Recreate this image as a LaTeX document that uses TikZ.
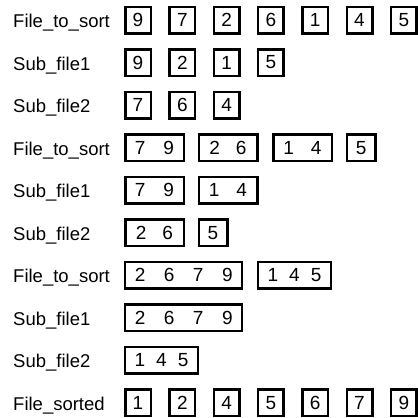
\documentclass[tikz,border=0pt]{standalone}
\usepackage{fontspec}
\setmainfont{Liberation Sans}
\begin{document}
\begin{tikzpicture}[x=1pt,y=-1pt,
  cell/.style={draw,line width=2.5pt,minimum height=26.5pt,inner sep=0pt,font=\fontsize{19}{21}\selectfont},
  one/.style={cell,minimum width=25.5pt},
  onew/.style={cell,minimum width=28.5pt},
  two/.style={cell,minimum width=58.5pt},
  three/.style={cell,minimum width=73pt},
  four/.style={cell,minimum width=117pt},
  lab/.style={anchor=base west,inner sep=0pt,font=\fontsize{18.5}{20}\selectfont}]
\useasboundingbox (0,0) rectangle (418,418);
% labels
\node[lab] (L1) at (13,27.5) {File\_to\_sort};
\node[lab] (L2) at (13,70) {Sub\_file1};
\node[lab] (L3) at (13,112.6) {Sub\_file2};
\node[lab] (L4) at (13,155.2) {File\_to\_sort};
\node[lab] (L5) at (13,197.7) {Sub\_file1};
\node[lab] (L6) at (13,240.3) {Sub\_file2};
\node[lab] (L7) at (13,282.8) {File\_to\_sort};
\node[lab] (L8) at (13,325.4) {Sub\_file1};
\node[lab] (L9) at (13,367.9) {Sub\_file2};
\node[lab] (L10) at (13,410.5) {File\_sorted};
% row 1
\node[one] (r1a) at (138,20) {9};
\node[one] (r1b) at (182.3,20) {7};
\node[one] (r1c) at (226.6,20) {2};
\node[one] (r1d) at (270.9,20) {6};
\node[one] (r1e) at (315.2,20) {1};
\node[one] (r1f) at (359.5,20) {4};
\node[one] (r1g) at (403.8,20) {5};
% row 2
\node[one] (r2a) at (138,62.55) {9};
\node[one] (r2b) at (182.3,62.55) {2};
\node[one] (r2c) at (226.6,62.55) {1};
\node[one] (r2d) at (270.9,62.55) {5};
% row 3
\node[one] (r3a) at (138,105.1) {7};
\node[one] (r3b) at (182.3,105.1) {6};
\node[one] (r3c) at (226.6,105.1) {4};
% row 4
\node[two] (r4a) at (154.5,147.65) {7\hspace{18pt}9};
\node[two] (r4b) at (228,147.65) {2\hspace{16pt}6};
\node[two] (r4c) at (302.5,147.65) {1\hspace{17pt}4};
\node[onew] (r4d) at (361.2,147.65) {5};
% row 5
\node[two] (r5a) at (154.5,190.2) {7\hspace{18pt}9};
\node[two] (r5b) at (228,190.2) {1\hspace{17pt}4};
% row 6
\node[two] (r6a) at (154.5,232.75) {2\hspace{16pt}6};
\node[onew] (r6b) at (213,232.75) {5};
% row 7
\node[four] (r7a) at (183.7,275.3) {2\hspace{18.5pt}6\hspace{18.5pt}7\hspace{18.5pt}9};
\node[three] (r7b) at (294.5,275.3) {1\hspace{11pt}4\hspace{11pt}5};
% row 8
\node[four] (r8a) at (183.7,317.85) {2\hspace{18.5pt}6\hspace{18.5pt}7\hspace{18.5pt}9};
% row 9
\node[three] (r9a) at (161.5,360.4) {1\hspace{11pt}4\hspace{11pt}5};
% row 10
\node[one] (r10a) at (138,402.95) {1};
\node[one] (r10b) at (182.3,402.95) {2};
\node[one] (r10c) at (226.6,402.95) {4};
\node[one] (r10d) at (270.9,402.95) {5};
\node[one] (r10e) at (315.2,402.95) {6};
\node[one] (r10f) at (359.5,402.95) {7};
\node[one] (r10g) at (403.8,402.95) {9};
\end{tikzpicture}
\end{document}
